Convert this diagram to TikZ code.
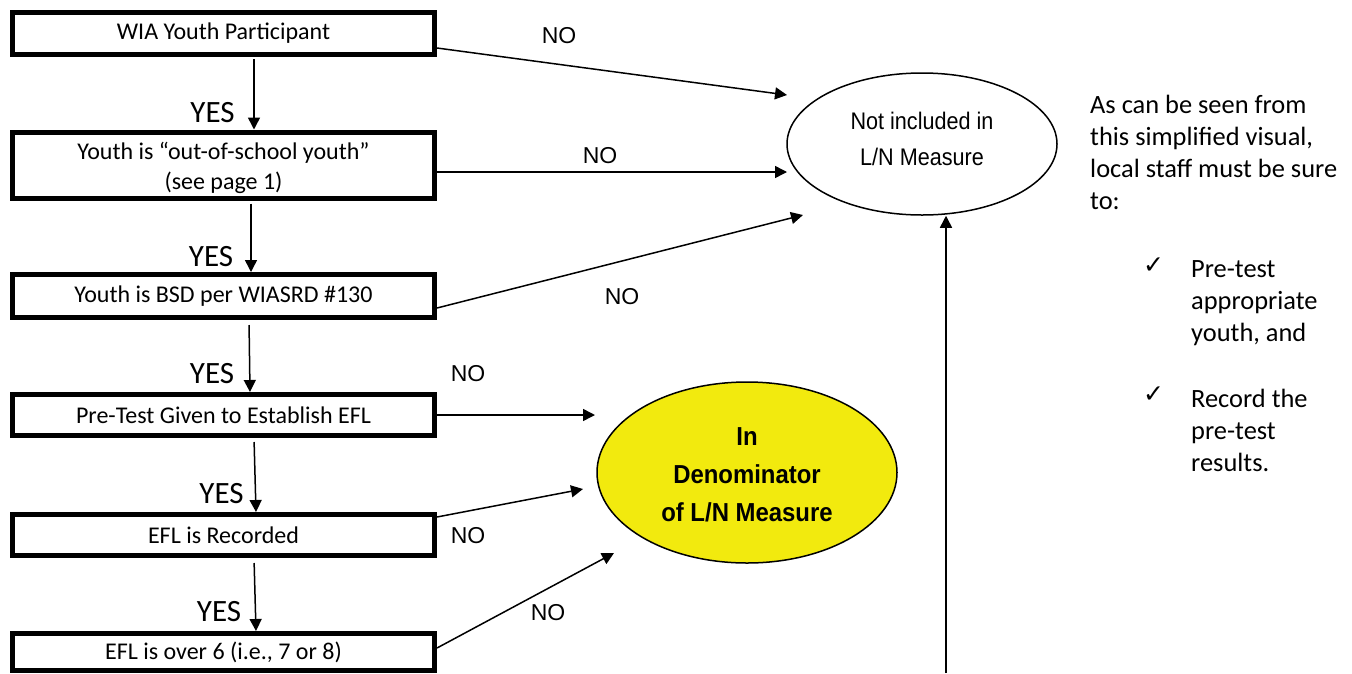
\documentclass[tikz,border=0pt]{standalone}
\usepackage{fontspec}
\setmainfont{Carlito}
\newfontfamily\arialfont{Liberation Sans}
\newfontfamily\narrowfont[FakeStretch=0.9]{Liberation Sans}
\newfontfamily\narrowbold[FakeStretch=0.92]{Liberation Sans Bold}
\newfontfamily\checkfont{DejaVu Sans}
\usetikzlibrary{arrows.meta,shapes.geometric}
\definecolor{ylw}{RGB}{242,234,14}
\begin{document}
\begin{tikzpicture}[x=1pt,y=-1pt,
  flowbox/.style={draw, line width=5pt, minimum width=422pt, inner sep=0pt, align=center, font=\fontsize{24}{30}\selectfont},
  arr/.style={line width=1.5pt, -{Triangle[length=12pt,width=12pt]}},
  yeslbl/.style={font=\fontsize{31}{36}\selectfont, inner sep=0pt},
  nolbl/.style={font=\arialfont\fontsize{23}{27}\selectfont, inner sep=0pt},
  sidetext/.style={anchor=base west, inner sep=0pt, font=\fontsize{26.4}{32.2}\selectfont},
  checkmk/.style={anchor=base west, inner sep=0pt, font=\checkfont\fontsize{25}{28}\selectfont},
  ]
\useasboundingbox (0,0) rectangle (1352,673);

% boxes
\node[flowbox, minimum height=42pt] (b1) at (223.5,33.5) {WIA Youth Participant};
\node[flowbox, minimum height=65pt] (b2) at (223.5,165) {\raisebox{0pt}[\dimexpr\height+6pt\relax][\depth]{\begin{tabular}{@{}c@{}}Youth is “out-of-school youth”\\(see page 1)\end{tabular}}};
\node[flowbox, minimum height=43pt] (b3) at (223.5,296) {Youth is BSD per WIASRD \#130};
\node[flowbox, minimum height=41pt] (b4) at (223.5,415) {Pre-Test Given to Establish EFL};
\node[flowbox, minimum height=41pt] (b5) at (223.5,535) {EFL is Recorded};
\node[flowbox, minimum height=37pt] (b6) at (223.5,652) {EFL is over 6 (i.e., 7 or 8)};

% ellipses
\node[ellipse, draw, line width=1.5pt, minimum width=270pt, minimum height=142pt, inner sep=0pt, align=center,
      font=\narrowfont\fontsize{24}{36}\selectfont] (ex) at (922,144)
      {\raisebox{0pt}[\height][\dimexpr\depth+8pt\relax]{\begin{tabular}{@{}c@{}}Not included in\\L/N Measure\end{tabular}}};
\node[ellipse, draw, fill=ylw, line width=1.5pt, minimum width=300pt, minimum height=181pt, inner sep=0pt, align=center,
      font=\narrowbold\fontsize{26}{38}\selectfont] (den) at (747,472.5)
      {\raisebox{0pt}[\dimexpr\height+6pt\relax][\depth]{\begin{tabular}{@{}c@{}}In\\Denominator\\of L/N Measure\end{tabular}}};

% YES arrows
\draw[arr, shorten <=2pt] ([xshift=30.5pt]b1.south) -- ([xshift=30.5pt]b2.north);
\draw[arr, shorten <=3pt] ([xshift=27.5pt]b2.south) -- ([xshift=27.5pt]b3.north);
\draw[arr, shorten <=5pt] ([xshift=25.5pt]b3.south) -- ([xshift=26.5pt]b4.north);
\draw[arr, shorten <=4pt] ([xshift=30.5pt]b4.south) -- ([xshift=32.5pt]b5.north);
\draw[arr, shorten <=5pt] ([xshift=30.5pt]b5.south) -- ([xshift=32.5pt]b6.north);

% NO arrows
\draw[arr] ([shift={(0,14.5)}]b1.east) -- ([shift={(-135,-49)}]ex.center);
\draw[arr] ([shift={(0,7)}]b2.east) -- ([shift={(-135,28)}]ex.center);
\draw[arr] ([shift={(0,12)}]b3.east) -- ([shift={(-119,71)}]ex.center);
\draw[arr] (b4.east) -- ([shift={(-152,-57.5)}]den.center);
\draw[arr] ([shift={(0,-18)}]b5.east) -- ([shift={(-164,16.5)}]den.center);
\draw[arr] ([shift={(0,-4)}]b6.east) -- ([shift={(-133,80.5)}]den.center);

% long vertical arrow
\coordinate (vb) at (946,673);
\draw[arr] (vb) -- (vb |- ex.south);

% labels
\node[yeslbl] (y1) at (212.5,112.5) {YES};
\node[yeslbl] (y2) at (211,257) {YES};
\node[yeslbl] (y3) at (212,374) {YES};
\node[yeslbl] (y4) at (221.5,494) {YES};
\node[yeslbl] (y5) at (219,612) {YES};
\node[nolbl] (n1) at (559,36) {NO};
\node[nolbl] (n2) at (600,156) {NO};
\node[nolbl] (n3) at (622,297) {NO};
\node[nolbl] (n4) at (468,374) {NO};
\node[nolbl] (n5) at (468,536) {NO};
\node[nolbl] (n6) at (548,613) {NO};

% side text
\node[sidetext] (note) at (1090,113) {\parbox[t]{262pt}{\raggedright As can be seen from\\this simplified visual,\\local staff must be sure\\to:}};
\node[checkmk] (c1) at (1143,273) {✓};
\node[sidetext] (t1) at (1191,277) {\parbox[t]{160pt}{\raggedright Pre-test\\appropriate\\youth, and}};
\node[checkmk] (c2) at (1143,402) {✓};
\node[sidetext] (t2) at (1191,407) {\parbox[t]{160pt}{\raggedright Record the\\pre-test\\results.}};
\end{tikzpicture}
\end{document}
